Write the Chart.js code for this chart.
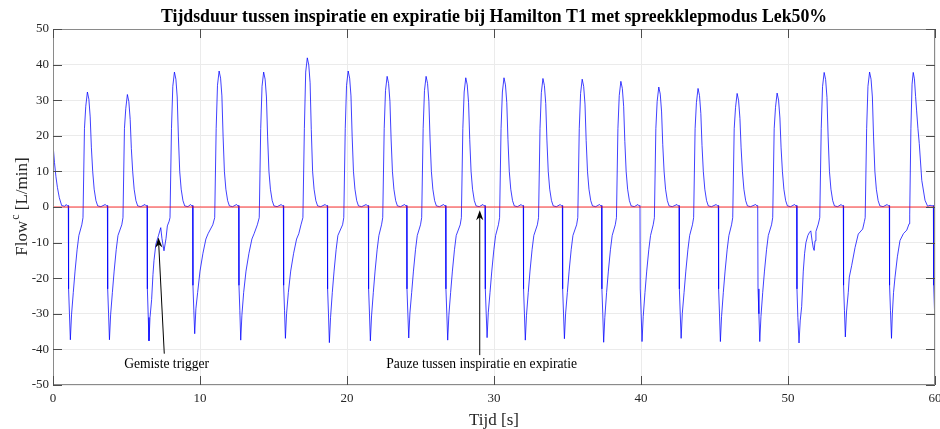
<!DOCTYPE html>
<html>
<head>
<meta charset="utf-8">
<script src="https://cdn.jsdelivr.net/npm/chart.js@4.4.1/dist/chart.umd.min.js"></script>
<style>
  body { margin: 0; background: #fff; }
  #wrap { width: 940px; height: 429px; }
</style>
</head>
<body>
<div id="wrap"><canvas id="flowChart" width="940" height="429"></canvas></div>
<script>
// texts
const chartTitle = 'Tijdsduur tussen inspiratie en expiratie bij Hamilton T1 met spreekklepmodus Lek50%';
const xLabel = 'Tijd [s]';
const yLabelMain = 'Flow';
const yLabelSup = 'c';
const yLabelUnit = ' [L/min]';

// axes
const xRange = [0, 60];
const yRange = [-50, 50];
const tickStep = 10;

// flow signal [time s, flow L/min], one line per breath
const flowTrace = [
  [0,17.6],[0.1,12.5],[0.2,8.5],[0.3,5.5],[0.43,2.6],[0.59,0.4],[0.8,0.2],[0.9,0.7],[0.98,0.3],
  [1.04,0.4],[1.06,-23],[1.12,-30],[1.18,-37.3],[1.26,-30.3],[1.38,-24],[1.50,-18],[1.64,-12],[1.76,-8],[1.96,-5],[2.04,-3],[2.14,22],[2.23,28.3],[2.34,32.3],[2.44,30.3],[2.53,25.3],[2.61,16.8],[2.70,10],[2.80,5],[2.92,1.8],[3.04,0.3],[3.26,0.1],[3.56,0.7],[3.64,0.3],
  [3.70,0.4],[3.72,-23],[3.78,-30],[3.84,-37.3],[3.92,-30.3],[4.04,-24],[4.16,-18],[4.30,-12],[4.42,-8],[4.68,-5],[4.76,-3],[4.86,22],[4.95,27.6],[5.06,31.6],[5.16,29.6],[5.25,24.6],[5.33,16.4],[5.42,10],[5.52,5],[5.64,1.8],[5.76,0.3],[5.98,0.1],[6.26,0.7],[6.34,0.3],
  [6.40,0.4],[6.42,-23],[6.48,-31],[6.53,-37.6],[6.60,-31],[6.71,-26],[6.80,-19],[6.87,-15],[7.00,-10.4],[7.17,-8.1],[7.33,-5.8],[7.41,-8.8],[7.55,-12.3],[7.69,-8.8],[7.78,-5.3],[7.90,-4],[7.96,-3],[8.06,22],[8.15,33.9],[8.26,37.9],[8.36,35.9],[8.45,30.9],[8.53,19.7],[8.62,10],[8.72,5],[8.84,1.8],[8.96,0.3],[9.18,0.1],[9.36,0.7],[9.44,0.3],
  [9.50,0.4],[9.52,-22],[9.58,-29],[9.64,-35.6],[9.72,-28.6],[9.84,-24],[10.00,-18],[10.20,-13],[10.40,-9],[10.55,-7.5],[10.87,-5],[11.00,-3],[11.10,22],[11.19,34.2],[11.30,38.2],[11.40,36.2],[11.49,31.2],[11.57,19.9],[11.66,10],[11.76,5],[11.88,1.8],[12.00,0.3],[12.22,0.1],[12.49,0.7],[12.57,0.3],
  [12.63,0.4],[12.65,-22],[12.71,-29],[12.77,-37.4],[12.85,-30.4],[12.97,-24],[13.13,-18],[13.33,-13],[13.53,-9],[13.68,-7.5],[13.90,-5],[14.03,-3],[14.13,22],[14.22,33.9],[14.33,37.9],[14.43,35.9],[14.52,30.9],[14.60,19.7],[14.69,10],[14.79,5],[14.91,1.8],[15.03,0.3],[15.25,0.1],[15.53,0.7],[15.61,0.3],
  [15.67,0.4],[15.69,-22],[15.75,-29],[15.81,-36.9],[15.89,-29.9],[16.01,-24],[16.17,-18],[16.37,-13],[16.57,-9],[16.72,-7.5],[16.87,-5],[17.00,-3],[17.10,22],[17.19,37.9],[17.30,41.9],[17.40,39.9],[17.49,34.9],[17.57,21.8],[17.66,10],[17.76,5],[17.88,1.8],[18.00,0.3],[18.22,0.1],[18.52,0.7],[18.60,0.3],
  [18.66,0.4],[18.68,-23],[18.74,-30],[18.80,-38.1],[18.88,-31.1],[19.00,-24],[19.12,-18],[19.26,-12],[19.38,-8],[19.70,-5],[19.78,-3],[19.88,22],[19.97,34.2],[20.08,38.2],[20.18,36.2],[20.27,31.2],[20.35,19.9],[20.44,10],[20.54,5],[20.66,1.8],[20.78,0.3],[21.00,0.1],[21.31,0.7],[21.39,0.3],
  [21.45,0.4],[21.47,-23],[21.53,-30],[21.59,-37.6],[21.67,-30.6],[21.79,-24],[21.91,-18],[22.05,-12],[22.17,-8],[22.35,-5],[22.43,-3],[22.53,22],[22.62,32.7],[22.73,36.7],[22.83,34.7],[22.92,29.7],[23.00,19.1],[23.09,10],[23.19,5],[23.31,1.8],[23.43,0.3],[23.65,0.1],[23.92,0.7],[24.00,0.3],
  [24.06,0.4],[24.08,-23],[24.14,-30],[24.20,-36.8],[24.28,-29.8],[24.40,-24],[24.52,-18],[24.66,-12],[24.78,-8],[25.00,-5],[25.08,-3],[25.18,22],[25.27,32.7],[25.38,36.7],[25.48,34.7],[25.57,29.7],[25.65,19.1],[25.74,10],[25.84,5],[25.96,1.8],[26.08,0.3],[26.30,0.1],[26.57,0.7],[26.65,0.3],
  [26.71,0.4],[26.73,-23],[26.79,-30],[26.85,-37.4],[26.93,-30.4],[27.05,-24],[27.17,-18],[27.31,-12],[27.43,-8],[27.70,-5],[27.78,-3],[27.88,22],[27.97,32.3],[28.08,36.3],[28.18,34.3],[28.27,29.3],[28.35,18.9],[28.44,10],[28.54,5],[28.66,1.8],[28.78,0.3],[29.00,0.1],[29.25,0.7],[29.33,0.3],
  [29.39,0.4],[29.41,-23],[29.47,-30],[29.53,-36.7],[29.61,-29.7],[29.73,-24],[29.85,-18],[29.99,-12],[30.11,-8],[30.30,-5],[30.38,-3],[30.48,22],[30.57,32.3],[30.68,36.3],[30.78,34.3],[30.87,29.3],[30.95,18.9],[31.04,10],[31.14,5],[31.26,1.8],[31.38,0.3],[31.60,0.1],[31.85,0.7],[31.93,0.3],
  [31.99,0.4],[32.01,-23],[32.07,-30],[32.13,-37.4],[32.21,-30.4],[32.33,-24],[32.45,-18],[32.59,-12],[32.71,-8],[32.95,-5],[33.03,-3],[33.13,22],[33.22,32.1],[33.33,36.1],[33.43,34.1],[33.52,29.1],[33.60,18.8],[33.69,10],[33.79,5],[33.91,1.8],[34.03,0.3],[34.25,0.1],[34.51,0.7],[34.59,0.3],
  [34.65,0.4],[34.67,-23],[34.73,-30],[34.79,-37],[34.87,-30],[34.99,-24],[35.11,-18],[35.25,-12],[35.37,-8],[35.62,-5],[35.70,-3],[35.80,22],[35.89,31.9],[36.00,35.9],[36.10,33.9],[36.19,28.9],[36.27,18.7],[36.36,10],[36.46,5],[36.58,1.8],[36.70,0.3],[36.92,0.1],[37.18,0.7],[37.26,0.3],
  [37.32,0.4],[37.34,-23],[37.40,-30],[37.46,-38],[37.54,-31],[37.66,-24],[37.78,-18],[37.92,-12],[38.04,-8],[38.25,-5],[38.33,-3],[38.43,22],[38.52,31.3],[38.63,35.3],[38.73,33.3],[38.82,28.3],[38.90,18.4],[38.99,10],[39.09,5],[39.21,1.8],[39.33,0.3],[39.55,0.1],[39.79,0.7],[39.87,0.3],
  [39.93,0.4],[39.95,-23],[40.01,-30],[40.07,-37.8],[40.15,-30.8],[40.27,-24],[40.39,-18],[40.53,-12],[40.65,-8],[40.83,-5],[40.91,-3],[41.01,22],[41.10,29.7],[41.21,33.7],[41.31,31.7],[41.40,26.7],[41.48,17.5],[41.57,10],[41.67,5],[41.79,1.8],[41.91,0.3],[42.13,0.1],[42.45,0.7],[42.53,0.3],
  [42.59,0.4],[42.61,-23],[42.67,-30],[42.73,-36.9],[42.81,-29.9],[42.93,-24],[43.05,-18],[43.19,-12],[43.31,-8],[43.50,-5],[43.58,-3],[43.68,22],[43.77,29.3],[43.88,33.3],[43.98,31.3],[44.07,26.3],[44.15,17.3],[44.24,10],[44.34,5],[44.46,1.8],[44.58,0.3],[44.80,0.1],[45.12,0.7],[45.20,0.3],
  [45.26,0.4],[45.28,-23],[45.34,-30],[45.40,-37.8],[45.48,-30.8],[45.60,-24],[45.72,-18],[45.86,-12],[45.98,-8],[46.16,-5],[46.24,-3],[46.34,22],[46.43,27.9],[46.54,31.9],[46.64,29.9],[46.73,24.9],[46.81,16.6],[46.90,10],[47.00,5],[47.12,1.8],[47.24,0.3],[47.46,0.1],[47.80,0.7],[47.88,0.3],
  [47.94,0.4],[47.96,-23],[48.02,-30],[48.08,-37.8],[48.16,-30.8],[48.28,-24],[48.40,-18],[48.54,-12],[48.66,-8],[48.88,-5],[48.96,-3],[49.06,22],[49.15,28],[49.26,32],[49.36,30],[49.45,25],[49.53,16.6],[49.62,10],[49.72,5],[49.84,1.8],[49.96,0.3],[50.18,0.1],[50.45,0.7],[50.53,0.3],
  [50.59,0.4],[50.61,-23],[50.67,-31],[50.75,-38.2],[50.83,-32],[50.93,-28],[51.04,-18],[51.13,-13],[51.22,-10],[51.35,-8],[51.45,-7.2],[51.55,-6.7],[51.64,-9.5],[51.72,-11.5],[51.78,-12.2],[51.84,-9.5],[51.90,-6.9],[52.06,-4.8],[52.16,-3],[52.26,22],[52.35,33.8],[52.46,37.8],[52.56,35.8],[52.65,30.8],[52.73,19.7],[52.82,10],[52.92,5],[53.04,1.8],[53.16,0.3],[53.38,0.1],[53.62,0.7],[53.70,0.3],
  [53.76,0.4],[53.78,-22],[53.84,-29],[53.90,-36.5],[53.98,-29.5],[54.10,-24],[54.17,-19.7],[54.33,-16.5],[54.56,-11.4],[54.78,-7.6],[55.08,-6.2],[55.20,-4],[55.25,-3],[55.35,22],[55.44,33.9],[55.55,37.9],[55.65,35.9],[55.74,30.9],[55.82,19.7],[55.91,10],[56.01,5],[56.13,1.8],[56.25,0.3],[56.47,0.1],[56.75,0.7],[56.83,0.3],
  [56.89,0.4],[56.91,-22],[56.97,-29],[57.04,-36.9],[57.10,-30],[57.18,-24],[57.28,-19.7],[57.44,-14],[57.62,-9.4],[57.85,-7.5],[58.08,-6.5],[58.24,-4.7],[58.28,-2],[58.36,22],[58.44,34.5],[58.52,37.8],[58.60,36],[58.68,31],[58.75,27],[58.84,22],[58.93,17.8],[59.10,7.5],[59.32,1.9],[59.50,0.2],[59.66,0.5],[59.80,0.3],
  [59.89,0.4],[59.91,-22],[60.00,-33.2]
];

// red reference line at zero flow
const zeroLine = [[0, 0], [60, 0]];

// annotations: text position, arrow tail, arrow tip (data units)
const noteTexts = ['Gemiste trigger', 'Pauze tussen inspiratie en expiratie'];
const noteTextPos = [[7.73, -44.2], [29.16, -44.3]];
const noteTail = [[7.57, -41.2], [29.03, -41.6]];
const noteTip = [[7.17, -8.6], [29.03, -0.9]];

const serif = '"Liberation Serif", "Times New Roman", serif';

// MATLAB style extras: box, inner ticks, title, axis labels, arrows
const matlabLook = {
    id: 'matlabLook',
    afterDraw(chart) {
        const ctx = chart.ctx;
        const a = chart.chartArea;
        const xs = chart.scales.x;
        const ys = chart.scales.y;
        ctx.save();

        // box round the axes
        ctx.strokeStyle = '#8a8a8a';
        ctx.lineWidth = 1;
        ctx.strokeRect(Math.round(a.left) + 0.5, Math.round(a.top) + 0.5,
            Math.round(a.right - a.left) - 1, Math.round(a.bottom - a.top) - 1);

        // inward tick marks
        ctx.strokeStyle = '#4d4d4d';
        ctx.beginPath();
        for (let v = xRange[0]; v <= xRange[1]; v += tickStep) {
            const px = Math.round(xs.getPixelForValue(v)) + 0.5;
            ctx.moveTo(px, a.bottom); ctx.lineTo(px, a.bottom - 9);
            ctx.moveTo(px, a.top); ctx.lineTo(px, a.top + 9);
        }
        for (let v = yRange[0]; v <= yRange[1]; v += tickStep) {
            const py = Math.round(ys.getPixelForValue(v)) + 0.5;
            ctx.moveTo(a.left, py); ctx.lineTo(a.left + 9, py);
            ctx.moveTo(a.right, py); ctx.lineTo(a.right - 9, py);
        }
        ctx.stroke();

        // annotations
        ctx.strokeStyle = '#000';
        ctx.fillStyle = '#000';
        noteTexts.forEach((txt, i) => {
            const x0 = xs.getPixelForValue(noteTail[i][0]);
            const y0 = ys.getPixelForValue(noteTail[i][1]);
            const x1 = xs.getPixelForValue(noteTip[i][0]);
            const y1 = ys.getPixelForValue(noteTip[i][1]);
            const ang = Math.atan2(y1 - y0, x1 - x0);
            const len = 10, half = 3.6;
            ctx.lineWidth = 1;
            ctx.beginPath();
            ctx.moveTo(x0, y0);
            ctx.lineTo(x1 - Math.cos(ang) * 6, y1 - Math.sin(ang) * 6);
            ctx.stroke();
            // arrow head (vback2 style)
            const bx = x1 - Math.cos(ang) * len, by = y1 - Math.sin(ang) * len;
            const nx = -Math.sin(ang), ny = Math.cos(ang);
            ctx.beginPath();
            ctx.moveTo(x1, y1);
            ctx.lineTo(bx + nx * half, by + ny * half);
            ctx.lineTo(x1 - Math.cos(ang) * 7, y1 - Math.sin(ang) * 7);
            ctx.lineTo(bx - nx * half, by - ny * half);
            ctx.closePath();
            ctx.fill();

            ctx.font = '13.6px ' + serif;
            ctx.textAlign = 'center';
            ctx.textBaseline = 'middle';
            ctx.fillText(txt, xs.getPixelForValue(noteTextPos[i][0]), ys.getPixelForValue(noteTextPos[i][1]));
        });

        // title
        const cx = (a.left + a.right) / 2;
        ctx.fillStyle = '#000';
        ctx.font = 'bold 17.8px ' + serif;
        ctx.textAlign = 'center';
        ctx.textBaseline = 'alphabetic';
        ctx.fillText(chartTitle, cx, 22);

        // x axis label
        ctx.fillStyle = '#262626';
        ctx.font = '17px ' + serif;
        ctx.fillText(xLabel, cx, 425);

        // y axis label with superscript
        const cy = (a.top + a.bottom) / 2;
        ctx.translate(27, cy);
        ctx.rotate(-Math.PI / 2);
        ctx.font = '17px ' + serif;
        const w1 = ctx.measureText(yLabelMain).width;
        const w3 = ctx.measureText(yLabelUnit).width;
        ctx.font = '12px ' + serif;
        const w2 = ctx.measureText(yLabelSup).width;
        let x = -(w1 + w2 + w3) / 2;
        ctx.textAlign = 'left';
        ctx.font = '17px ' + serif;
        ctx.fillText(yLabelMain, x, 0);
        x += w1 + 1;
        ctx.font = '12px ' + serif;
        ctx.fillText(yLabelSup, x, -8);
        x += w2;
        ctx.font = '17px ' + serif;
        ctx.fillText(yLabelUnit, x, 0);

        ctx.restore();
    }
};

const ctx = document.getElementById('flowChart').getContext('2d');
new Chart(ctx, {
    type: 'line',
    data: {
        datasets: [
            {
                label: 'nul',
                data: zeroLine.map(p => ({ x: p[0], y: p[1] })),
                borderColor: 'rgba(255, 0, 0, 0.8)',
                borderWidth: 1,
                pointRadius: 0
            },
            {
                label: 'Flow',
                data: flowTrace.map(p => ({ x: p[0], y: p[1] })),
                borderColor: 'rgba(0, 0, 255, 0.75)',
                borderWidth: 1,
                pointRadius: 0,
                tension: 0
            }
        ]
    },
    options: {
        responsive: false,
        animation: false,
        layout: { padding: { top: 29, right: 0, left: 0, bottom: 0 } },
        plugins: {
            legend: { display: false },
            tooltip: { enabled: false },
            title: { display: false }
        },
        scales: {
            x: {
                type: 'linear',
                min: xRange[0],
                max: xRange[1],
                ticks: {
                    stepSize: tickStep,
                    color: '#262626',
                    font: { family: serif, size: 13 },
                    padding: 6,
                    maxRotation: 0
                },
                grid: { color: '#ebebeb', drawTicks: false },
                border: { display: false },
                afterFit: scale => {
                    scale.height = 44;
                    scale.paddingLeft = 0;
                    scale.paddingRight = 5;
                }
            },
            y: {
                min: yRange[0],
                max: yRange[1],
                ticks: {
                    stepSize: tickStep,
                    color: '#262626',
                    font: { family: serif, size: 13 },
                    padding: 4
                },
                grid: { color: '#ebebeb', drawTicks: false },
                border: { display: false },
                afterFit: scale => {
                    scale.width = 53;
                    scale.paddingTop = 0;
                    scale.paddingBottom = 0;
                }
            }
        }
    },
    plugins: [matlabLook]
});
</script>
</body>
</html>
